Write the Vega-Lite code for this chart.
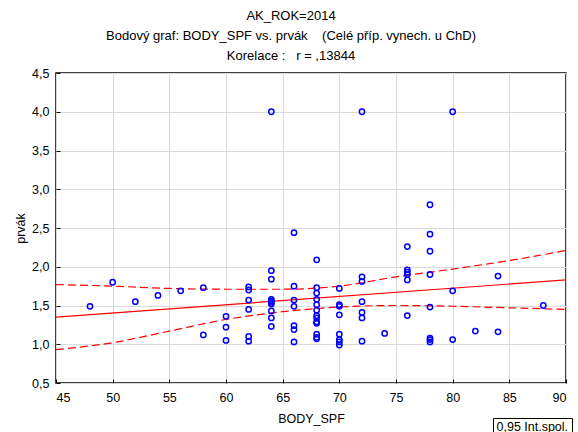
{
  "$schema": "https://vega.github.io/schema/vega-lite/v6.json",
  "autosize": "none",
  "width": 510,
  "height": 310,
  "padding": {"left": 56, "top": 73, "right": 12, "bottom": 49},
  "background": "white",
  "config": {
    "font": "Liberation Sans",
    "view": {"stroke": "black", "strokeWidth": 1.5},
    "axis": {
      "domain": false,
      "grid": true,
      "gridColor": "#d9d9d9",
      "gridWidth": 1,
      "tickColor": "black",
      "tickSize": -4,
      "labelFont": "Liberation Sans",
      "labelFontSize": 12.5,
      "labelColor": "black",
      "titleFont": "Liberation Sans",
      "titleFontSize": 12.5,
      "titleFontWeight": "normal",
      "titleColor": "black"
    }
  },
  "title": {
    "text": ["AK_ROK=2014", "Bodový graf: BODY_SPF vs. prvák \u00a0\u00a0\u00a0(Celé příp. vynech. u ChD)", "Korelace : \u00a0\u00a0r = ,13844"],
    "font": "Liberation Sans",
    "fontSize": 13,
    "fontWeight": "normal",
    "color": "black",
    "lineHeight": 20,
    "offset": 4,
    "dx": -20,
    "anchor": "middle"
  },
  "datasets": {
    "pts": [
      {"BODY_SPF": 48, "prvak": 1.49},
      {"BODY_SPF": 50, "prvak": 1.80},
      {"BODY_SPF": 52, "prvak": 1.55},
      {"BODY_SPF": 54, "prvak": 1.63},
      {"BODY_SPF": 56, "prvak": 1.69},
      {"BODY_SPF": 58, "prvak": 1.73},
      {"BODY_SPF": 58, "prvak": 1.12},
      {"BODY_SPF": 60, "prvak": 1.36},
      {"BODY_SPF": 60, "prvak": 1.22},
      {"BODY_SPF": 60, "prvak": 1.05},
      {"BODY_SPF": 62, "prvak": 1.74},
      {"BODY_SPF": 62, "prvak": 1.70},
      {"BODY_SPF": 62, "prvak": 1.57},
      {"BODY_SPF": 62, "prvak": 1.45},
      {"BODY_SPF": 62, "prvak": 1.10},
      {"BODY_SPF": 62, "prvak": 1.04},
      {"BODY_SPF": 64, "prvak": 4.00},
      {"BODY_SPF": 64, "prvak": 1.95},
      {"BODY_SPF": 64, "prvak": 1.84},
      {"BODY_SPF": 64, "prvak": 1.58},
      {"BODY_SPF": 64, "prvak": 1.56},
      {"BODY_SPF": 64, "prvak": 1.54},
      {"BODY_SPF": 64, "prvak": 1.52},
      {"BODY_SPF": 64, "prvak": 1.43},
      {"BODY_SPF": 64, "prvak": 1.34},
      {"BODY_SPF": 64, "prvak": 1.23},
      {"BODY_SPF": 66, "prvak": 2.44},
      {"BODY_SPF": 66, "prvak": 1.75},
      {"BODY_SPF": 66, "prvak": 1.57},
      {"BODY_SPF": 66, "prvak": 1.49},
      {"BODY_SPF": 66, "prvak": 1.24},
      {"BODY_SPF": 66, "prvak": 1.19},
      {"BODY_SPF": 66, "prvak": 1.03},
      {"BODY_SPF": 68, "prvak": 2.09},
      {"BODY_SPF": 68, "prvak": 1.73},
      {"BODY_SPF": 68, "prvak": 1.66},
      {"BODY_SPF": 68, "prvak": 1.58},
      {"BODY_SPF": 68, "prvak": 1.51},
      {"BODY_SPF": 68, "prvak": 1.44},
      {"BODY_SPF": 68, "prvak": 1.37},
      {"BODY_SPF": 68, "prvak": 1.34},
      {"BODY_SPF": 68, "prvak": 1.29},
      {"BODY_SPF": 68, "prvak": 1.27},
      {"BODY_SPF": 68, "prvak": 1.13},
      {"BODY_SPF": 68, "prvak": 1.09},
      {"BODY_SPF": 68, "prvak": 1.07},
      {"BODY_SPF": 70, "prvak": 1.72},
      {"BODY_SPF": 70, "prvak": 1.51},
      {"BODY_SPF": 70, "prvak": 1.49},
      {"BODY_SPF": 70, "prvak": 1.38},
      {"BODY_SPF": 70, "prvak": 1.13},
      {"BODY_SPF": 70, "prvak": 1.06},
      {"BODY_SPF": 70, "prvak": 1.03},
      {"BODY_SPF": 70, "prvak": 0.99},
      {"BODY_SPF": 72, "prvak": 4.00},
      {"BODY_SPF": 72, "prvak": 1.87},
      {"BODY_SPF": 72, "prvak": 1.81},
      {"BODY_SPF": 72, "prvak": 1.55},
      {"BODY_SPF": 72, "prvak": 1.41},
      {"BODY_SPF": 72, "prvak": 1.34},
      {"BODY_SPF": 72, "prvak": 1.04},
      {"BODY_SPF": 74, "prvak": 1.14},
      {"BODY_SPF": 76, "prvak": 2.26},
      {"BODY_SPF": 76, "prvak": 1.96},
      {"BODY_SPF": 76, "prvak": 1.93},
      {"BODY_SPF": 76, "prvak": 1.90},
      {"BODY_SPF": 76, "prvak": 1.83},
      {"BODY_SPF": 76, "prvak": 1.37},
      {"BODY_SPF": 78, "prvak": 2.80},
      {"BODY_SPF": 78, "prvak": 2.42},
      {"BODY_SPF": 78, "prvak": 2.20},
      {"BODY_SPF": 78, "prvak": 1.90},
      {"BODY_SPF": 78, "prvak": 1.48},
      {"BODY_SPF": 78, "prvak": 1.08},
      {"BODY_SPF": 78, "prvak": 1.06},
      {"BODY_SPF": 78, "prvak": 1.03},
      {"BODY_SPF": 80, "prvak": 4.00},
      {"BODY_SPF": 80, "prvak": 1.69},
      {"BODY_SPF": 80, "prvak": 1.06},
      {"BODY_SPF": 82, "prvak": 1.17},
      {"BODY_SPF": 84, "prvak": 1.88},
      {"BODY_SPF": 84, "prvak": 1.16},
      {"BODY_SPF": 88, "prvak": 1.50}
    ],
    "fit": [
      {"BODY_SPF": 45, "prvak": 1.35},
      {"BODY_SPF": 90, "prvak": 1.83}
    ],
    "band": [
      {"BODY_SPF": 45, "prvak": 1.77, "side": "upper"},
      {"BODY_SPF": 50, "prvak": 1.75, "side": "upper"},
      {"BODY_SPF": 55, "prvak": 1.72, "side": "upper"},
      {"BODY_SPF": 60, "prvak": 1.71, "side": "upper"},
      {"BODY_SPF": 65, "prvak": 1.71, "side": "upper"},
      {"BODY_SPF": 70, "prvak": 1.75, "side": "upper"},
      {"BODY_SPF": 75, "prvak": 1.87, "side": "upper"},
      {"BODY_SPF": 80, "prvak": 1.97, "side": "upper"},
      {"BODY_SPF": 85, "prvak": 2.08, "side": "upper"},
      {"BODY_SPF": 90, "prvak": 2.21, "side": "upper"},
      {"BODY_SPF": 45, "prvak": 0.93, "side": "lower"},
      {"BODY_SPF": 50, "prvak": 1.02, "side": "lower"},
      {"BODY_SPF": 55, "prvak": 1.17, "side": "lower"},
      {"BODY_SPF": 60, "prvak": 1.32, "side": "lower"},
      {"BODY_SPF": 65, "prvak": 1.42, "side": "lower"},
      {"BODY_SPF": 70, "prvak": 1.48, "side": "lower"},
      {"BODY_SPF": 75, "prvak": 1.50, "side": "lower"},
      {"BODY_SPF": 80, "prvak": 1.49, "side": "lower"},
      {"BODY_SPF": 85, "prvak": 1.47, "side": "lower"},
      {"BODY_SPF": 90, "prvak": 1.45, "side": "lower"}
    ]
  },
  "encoding": {
    "x": {
      "field": "BODY_SPF", "type": "quantitative",
      "scale": {"domain": [45, 90], "nice": false, "zero": false},
      "axis": {"values": [45, 50, 55, 60, 65, 70, 75, 80, 85, 90], "title": "BODY_SPF", "labelPadding": 12, "titlePadding": 9}
    },
    "y": {
      "field": "prvak", "type": "quantitative",
      "scale": {"domain": [0.5, 4.5], "nice": false, "zero": false},
      "axis": {
        "values": [0.5, 1, 1.5, 2, 2.5, 3, 3.5, 4, 4.5],
        "labelExpr": "replace(format(datum.value, '.1f'), '.', ',')",
        "title": "prvák",
        "labelPadding": 11,
        "titlePadding": 4
      }
    }
  },
  "layer": [
    {
      "data": {"name": "band"},
      "mark": {"type": "line", "color": "#ff0000", "strokeWidth": 1.2, "clip": true, "interpolate": "monotone"},
      "encoding": {
        "detail": {"field": "side"},
        "strokeDash": {
          "datum": "0,95 Int.spol.",
          "scale": {"domain": ["0,95 Int.spol."], "range": [[8, 4]]},
          "legend": {
            "orient": "none",
            "legendX": 437,
            "legendY": 345,
            "title": null,
            "symbolType": "circle",
            "symbolOpacity": 0,
            "symbolSize": 0,
            "symbolStrokeWidth": 0,
            "labelOffset": -12,
            "labelFont": "Liberation Sans",
            "labelFontSize": 12.5,
            "labelColor": "black",
            "strokeColor": "black",
            "fillColor": "#fffff8",
            "padding": 3
          }
        }
      }
    },
    {
      "data": {"name": "fit"},
      "mark": {"type": "line", "color": "#ff0000", "strokeWidth": 1.2, "clip": true},
      "encoding": {}
    },
    {
      "data": {"name": "pts"},
      "mark": {"type": "point", "shape": "circle", "filled": false, "color": "#0000ff", "strokeWidth": 1.5, "size": 28, "opacity": 1},
      "encoding": {}
    }
  ]
}
